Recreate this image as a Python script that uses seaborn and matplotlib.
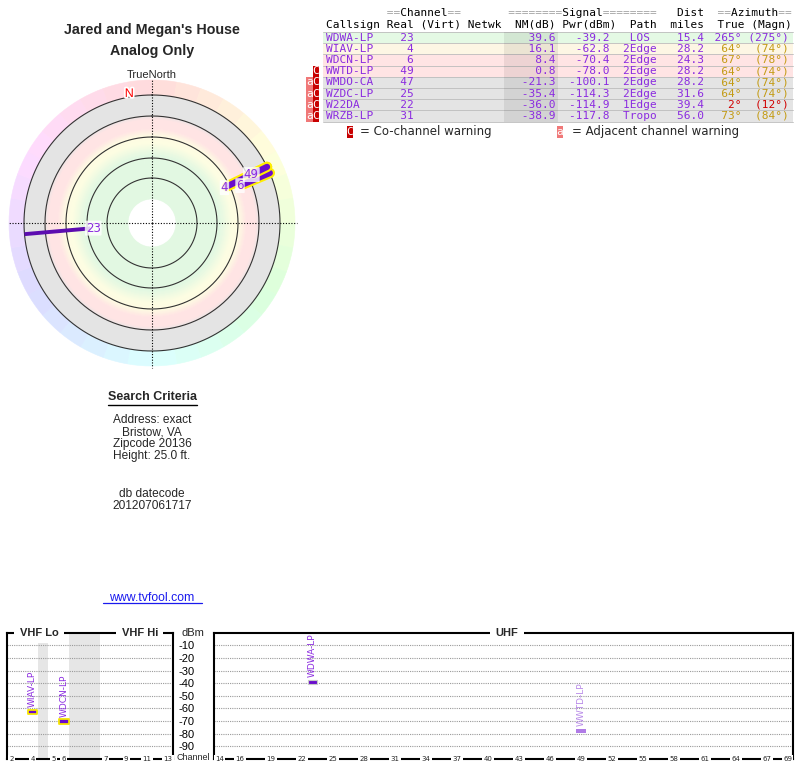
import numpy as np
import matplotlib
matplotlib.use("Agg")
import matplotlib.pyplot as plt
import matplotlib.patheffects as pe
from matplotlib.patches import Rectangle
from matplotlib.colors import LinearSegmentedColormap
import seaborn as sns

# ---- station table ----
callsigns = ['WDWA-LP', 'WIAV-LP', 'WDCN-LP', 'WWTD-LP', 'WMDO-CA', 'WZDC-LP', 'W22DA', 'WRZB-LP']
real_ch = [23, 4, 6, 49, 47, 25, 22, 31]
nm_db = [39.6, 16.1, 8.4, 0.8, -21.3, -35.4, -36.0, -38.9]
pwr_dbm = [-39.2, -62.8, -70.4, -78.0, -100.1, -114.3, -114.9, -117.8]
paths = ['LOS', '2Edge', '2Edge', '2Edge', '2Edge', '2Edge', '1Edge', 'Tropo']
dist_miles = [15.4, 28.2, 24.3, 28.2, 28.2, 31.6, 39.4, 56.0]
az_true = [265, 64, 67, 64, 64, 64, 2, 73]
az_magn = [275, 74, 78, 74, 74, 74, 12, 84]
co_warn = [False, False, False, True, True, True, True, True]
adj_warn = [False, False, False, False, True, True, True, True]

PURPLE = '#8b2be0'
GOLD = '#c39b14'
RED = '#d00000'
az_colors = [PURPLE, GOLD, GOLD, GOLD, GOLD, GOLD, RED, GOLD]
row_colors = ['#e4f9e4', '#fdf6e4', '#ffe4e4', '#ffe4e4',
              '#e4e4e4', '#e4e4e4', '#e4e4e4', '#e4e4e4']

# ---- spectrum axes ----
dbm_levels = [-10, -20, -30, -40, -50, -60, -70, -80, -90]
vhf_channels = [2, 3, 4, 5, 6, 7, 8, 9, 10, 11, 12, 13]
vhf_slots = [0, 1, 2, 4, 5, 9, 10, 11, 12, 13, 14, 15]
vhf_labels = [2, 4, 5, 6, 7, 9, 11, 13]
uhf_labels = [14, 16, 19, 22, 25, 28, 31, 34, 37, 40, 43, 46, 49, 52, 55, 58, 61, 64, 67, 69]

search_lines = ['Address: exact', 'Bristow, VA', 'Zipcode 20136', 'Height: 25.0 ft.']
date_lines = ['db datecode', '201207061717']

sns.set_theme(style="white")
plt.rcParams['font.family'] = ['Liberation Sans', 'DejaVu Sans']

W, H = 800, 768
fig = plt.figure(figsize=(8, 7.68), dpi=100)
fig.patch.set_facecolor('white')


def fig_box(x0, y0, x1, y1):
    return [x0 / W, 1 - y1 / H, (x1 - x0) / W, (y1 - y0) / H]


bg = fig.add_axes([0, 0, 1, 1])
bg.set_xlim(0, W)
bg.set_ylim(H, 0)
bg.axis('off')

# ---- titles and search criteria ----
bg.text(152, 30, "Jared and Megan's House", ha='center', va='center', fontsize=10.3, weight='bold')
bg.text(152, 51.5, "Analog Only", ha='center', va='center', fontsize=10.3, weight='bold')
bg.text(152, 75, "TrueNorth", ha='center', va='center', fontsize=8)

bg.text(152, 397.5, "Search Criteria", ha='center', va='center', fontsize=9, weight='bold')
bg.plot([108, 197], [404.5, 404.5], color='black', lw=1)
for i, s in enumerate(search_lines):
    bg.text(152, 420 + 12.1 * i, s, ha='center', va='center', fontsize=8.6)
for i, s in enumerate(date_lines):
    bg.text(152, 494.3 + 11.8 * i, s, ha='center', va='center', fontsize=8.6)
bg.text(152, 598, "www.tvfool.com", ha='center', va='center', fontsize=8.8, color='#1a1aee')
bg.plot([103, 201.5], [603, 603], color='#1a1aee', lw=0.9)

# ---- table ----
MONO = 'DejaVu Sans Mono'
CW = 8 * 100 / 72 * 0.6021
X0 = 326.0


def mono(col, y, s, color='black'):
    bg.text(X0 + col * CW, y, s, family=MONO, fontsize=8, color=color, ha='left', va='center')


head1 = " " * 9 + "==Channel==" + " " * 7 + "========Signal========" + "   Dist  " + "==Azimuth=="
head2 = "Callsign Real (Virt) Netwk  NM(dB) Pwr(dBm)  Path  miles  True (Magn)"
mono(0, 13, ''.join(c if c == '=' else ' ' for c in head1), '#a0a0a0')
mono(0, 13, ''.join(' ' if c == '=' else c for c in head1), 'black')
mono(0, 25.5, head2, 'black')

ROW_H = 11.2
TOP = 32.0
for i in range(len(callsigns)):
    yc = TOP + ROW_H * (i + 0.5)
    bg.add_patch(Rectangle((323, yc - ROW_H / 2), 470, ROW_H, fc=row_colors[i], ec='none', zorder=0))
    main = f"{callsigns[i]:<9}{real_ch[i]:>4}" + " " * 15 + f"{nm_db[i]:>6.1f}{pwr_dbm[i]:>8.1f}  {paths[i]:^5}{dist_miles[i]:>7.1f}"
    azs = f"{az_true[i]:>5}\u00b0" + f"({az_magn[i]}\u00b0)".rjust(7)
    mono(0, yc, main, PURPLE)
    mono(56, yc, azs, az_colors[i])
    if co_warn[i]:
        bg.add_patch(Rectangle((312.7, yc - ROW_H / 2), 6.6, ROW_H, fc='#c80000', ec='none'))
        bg.text(316, yc, 'C', family=MONO, fontsize=8, color='white', ha='center', va='center')
    if adj_warn[i]:
        bg.add_patch(Rectangle((306.1, yc - ROW_H / 2), 6.6, ROW_H, fc='#f07878', ec='none'))
        bg.text(309.4, yc, 'a', family=MONO, fontsize=8, color='white', ha='center', va='center')
for i in range(len(callsigns) + 1):
    y = TOP + ROW_H * i
    bg.plot([323, 793], [y, y], color='#bcbcbc', lw=0.6, zorder=1)
bg.add_patch(Rectangle((504, TOP), 54, ROW_H * len(callsigns), fc='black', alpha=0.07, ec='none', zorder=1))

# legend
bg.add_patch(Rectangle((346.7, 126), 6.6, 12, fc='#c80000', ec='none'))
bg.text(350, 132, 'C', family=MONO, fontsize=8, color='white', ha='center', va='center')
bg.text(360, 132, '= Co-channel warning', family='DejaVu Sans', fontsize=8.5, ha='left', va='center')
bg.add_patch(Rectangle((556.7, 126), 6.6, 12, fc='#f07878', ec='none'))
bg.text(560, 132, 'a', family=MONO, fontsize=8, color='white', ha='center', va='center')
bg.text(572, 132, '= Adjacent channel warning', family='DejaVu Sans', fontsize=8.5, ha='left', va='center')

# ---- polar compass ----
ax_p = fig.add_axes(fig_box(6, 77, 298, 369), projection='polar')
ax_p.set_theta_zero_location('N')
ax_p.set_theta_direction(-1)
ax_p.set_ylim(0, 146)
ax_p.axis('off')

band_cmap = LinearSegmentedColormap.from_list('bands', [
    (0.0, '#e2f8e2'), ((68 - 24) / 104, '#e2f8e2'), ((80 - 24) / 104, '#fdfde2'),
    ((87 - 24) / 104, '#fefce2'), ((95 - 24) / 104, '#ffe4e4'), ((104 - 24) / 104, '#ffe4e4'),
    ((109 - 24) / 104, '#e4e4e4'), (1.0, '#e4e4e4')])
rs = np.arange(24, 128, 1.0)
cols = [band_cmap((r + 0.5 - 24) / 104) for r in rs]
ax_p.bar(np.zeros_like(rs), 1.0, width=2 * np.pi, bottom=rs, color=cols, edgecolor=cols, lw=0.4)

ring_az = np.arange(5, 360, 10)
ring_cols = sns.hls_palette(len(ring_az), h=5 / 360, l=0.93, s=1.0)
ax_p.bar(np.radians(ring_az), 15, width=np.radians(10), bottom=128,
         color=ring_cols, edgecolor=ring_cols, lw=0.4)

theta = np.linspace(0, 2 * np.pi, 361)
for r in [45, 65, 86, 107, 128]:
    ax_p.plot(theta, np.full_like(theta, r), color='#333333', lw=0.8)
for a in [0, 90, 180, 270]:
    ax_p.plot([np.radians(a)] * 2, [0, 144.5], color='black', lw=0.8, ls=(0, (1, 1.5)))

# magnetic north marker
decl = az_true[0] - az_magn[0]
ax_p.text(np.radians(decl), 131, 'N', color='red', fontsize=9, ha='center', va='center',
          path_effects=[pe.withStroke(linewidth=2.5, foreground='white')])

for i in range(len(callsigns)):
    if nm_db[i] <= 0:
        continue
    r_end = float(np.clip(115 - 1.95 * nm_db[i], 62, 128))
    th = np.radians(az_true[i])
    if az_colors[i] == GOLD:
        ax_p.plot([th, th], [r_end, 128], color='#6a0dcc', lw=4.5, solid_capstyle='round', zorder=5,
                  path_effects=[pe.Stroke(linewidth=7.5, foreground='#ffee00'), pe.Normal()])
    else:
        ax_p.plot([th, th], [r_end, 128], color='#5c0cb0', lw=2.8, solid_capstyle='butt', zorder=5)
    ax_p.text(th, r_end - 3, str(real_ch[i]), color=PURPLE, fontsize=8.5, family='DejaVu Sans',
              ha='center', va='center', zorder=7,
              bbox=dict(boxstyle='round,pad=0.08', fc='white', ec='none', alpha=0.8))

# ---- spectrum ----
ax_v = fig.add_axes(fig_box(6.7, 632.7, 173, 759))
ax_u = fig.add_axes(fig_box(214.3, 632.7, 792.7, 759))
ax_v.set_xlim(0, 16)
ax_u.set_xlim(13.5, 69.5)
for ax in (ax_v, ax_u):
    ax.set_ylim(-100, 0)
    ax.set_facecolor('white')
    ax.grid(False)
    for s in ax.spines.values():
        s.set_color('black')
        s.set_linewidth(1.5)
        s.set_visible(True)
    ax.set_xticks([])
    ax.set_yticks(dbm_levels)
    ax.tick_params(left=False, bottom=False, right=False, top=False)
    for lv in dbm_levels:
        ax.axhline(lv, color='#9a9a9a', lw=0.8, ls=(0, (1, 1)), zorder=1)
ax_v.set_yticklabels([])
ax_u.set_yticklabels([str(v) for v in dbm_levels], fontsize=8, color='black')
ax_u.tick_params(axis='y', pad=7.9)

ax_v.axvspan(3, 4, color='#e6e6e6', zorder=0.5, lw=0)
ax_v.axvspan(6, 9, color='#e6e6e6', zorder=0.5, lw=0)

vslot = dict(zip(vhf_channels, vhf_slots))
lab_kw = dict(ha='center', va='center', fontsize=5, family='DejaVu Sans', zorder=6, clip_on=False,
              bbox=dict(fc='white', ec='none', pad=0.9))
for ch in vhf_labels:
    ax_v.text(vslot[ch] + 0.5, -100, str(ch), **lab_kw)
for ch in uhf_labels:
    ax_u.text(ch, -100, str(ch), **lab_kw)

title_kw = dict(ha='center', va='center', fontsize=8, weight='bold', zorder=6, clip_on=False,
                bbox=dict(fc='white', ec='none', pad=4))
ax_v.text(3.1, 0, 'VHF Lo', **title_kw)
ax_v.text(12.8, 0, 'VHF Hi', **title_kw)
ax_u.text(41.8, 0, 'UHF', **title_kw)
bg.text(193, 632.7, 'dBm', ha='center', va='center', fontsize=8)
bg.text(193, 757.5, 'Channel', ha='center', va='center', fontsize=6.5)

for i in range(len(callsigns)):
    if nm_db[i] <= 0:
        continue
    ch = real_ch[i]
    if ch <= 13:
        ax, x = ax_v, vslot[ch] + 0.5
    else:
        ax, x = ax_u, ch
    faded = nm_db[i] < 1
    fc = '#b07be6' if faded else '#6a0dcc'
    if az_colors[i] == GOLD and not faded:
        ec, elw = '#f5e400', 1.3
    elif faded:
        ec, elw = 'none', 0
    else:
        ec, elw = '#c8c8c8', 0.8
    ax.bar(x, 3.6, bottom=pwr_dbm[i] - 1.8, width=0.9, color=fc, edgecolor=ec, linewidth=elw,
           zorder=4, joinstyle='round')
    ax.text(x, pwr_dbm[i] + 4.0, callsigns[i], rotation=90, ha='center', va='bottom', fontsize=6.5,
            family='DejaVu Sans', color='#b88ae8' if faded else PURPLE, zorder=5)

fig.savefig('out.png', dpi=100, facecolor='white')
